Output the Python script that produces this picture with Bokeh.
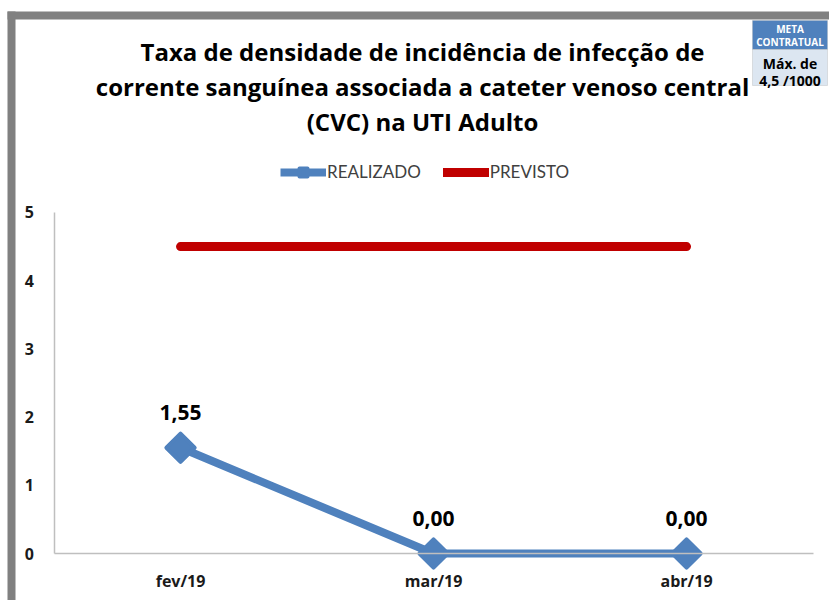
from bokeh.plotting import figure
from bokeh.models import (Range1d, FixedTicker, BoxAnnotation, LinearAxis,
                          Label, Legend, LegendItem, ColumnDataSource)
from bokeh.core.properties import value
from bokeh.embed import file_html
from bokeh.resources import INLINE

months = ["fev/19", "mar/19", "abr/19"]
realizado = [1.55, 0.0, 0.0]
previsto = [4.5, 4.5, 4.5]
realizado_labels = ["1,55", "0,00", "0,00"]
y_ticks = [0, 1, 2, 3, 4, 5]
title_lines = ["Taxa de densidade de incidência de infecção de",
               "corrente sanguínea associada a cateter venoso central",
               "(CVC) na UTI Adulto"]
meta_head = ["META", "CONTRATUAL"]
meta_body = ["Máx. de", "4,5 /1000"]

FONT = "Open Sans"
LFONT = "Lato"
BLUE = "#4F81BD"
RED = "#C00000"
GRAY = "#808080"

W, H = 829, 600
pos = list(range(len(months)))

p = figure(x_range=Range1d(-0.7115, 2.565), y_range=Range1d(-0.689, 8.108),
           width=W, height=H, output_backend="svg", toolbar_location=None,
           x_axis_type=None, y_axis_type=None,
           min_border=0, min_border_left=0, min_border_right=0,
           min_border_top=0, min_border_bottom=0)
p.background_fill_color = "white"
p.border_fill_color = "white"
p.outline_line_color = None
p.grid.visible = False

# axes drawn at fixed locations inside the frame
yax = LinearAxis(fixed_location=-0.5, bounds=(0, 5), ticker=FixedTicker(ticks=y_ticks))
yax.axis_line_color = "#BFBFBF"
yax.axis_line_width = 1.5
yax.major_tick_line_color = None
yax.minor_tick_line_color = None
yax.major_label_standoff = 14
yax.major_label_text_font = FONT
yax.major_label_text_font_style = "bold"
yax.major_label_text_font_size = "16px"
yax.major_label_text_color = "#1a1a1a"
p.add_layout(yax, "left")

xax = LinearAxis(fixed_location=0, bounds=(-0.5, len(months) - 0.5),
                 ticker=FixedTicker(ticks=pos),
                 major_label_overrides={i: m for i, m in enumerate(months)})
xax.axis_line_color = "#BFBFBF"
xax.axis_line_width = 1.5
xax.major_tick_line_color = None
xax.minor_tick_line_color = None
xax.major_label_standoff = 10
xax.major_label_text_font = FONT
xax.major_label_text_font_style = "bold"
xax.major_label_text_font_size = "16px"
xax.major_label_text_color = "#1a1a1a"
p.add_layout(xax, "below")

src = ColumnDataSource(dict(x=pos, real=realizado, prev=previsto, lab=realizado_labels))

r_prev = p.line("x", "prev", source=src, line_color=RED, line_width=9, line_cap="round")
r_real = p.line("x", "real", source=src, line_color=BLUE, line_width=8)
r_mark = p.scatter("x", "real", source=src, marker="square", angle=0.785398, size=20,
                   fill_color=BLUE, line_color=BLUE, line_width=4, line_join="round")
p.text("x", "real", text="lab", source=src, y_offset=-35, text_align="center",
       text_baseline="middle", text_font=value(FONT), text_font_style="bold",
       text_font_size="21px", text_color="black")

legend = Legend(items=[LegendItem(label="REALIZADO", renderers=[r_real, r_mark]),
                       LegendItem(label="PREVISTO", renderers=[r_prev])],
                location=(280, 418), orientation="horizontal",
                padding=0, margin=0, spacing=22, label_standoff=1,
                glyph_width=46, glyph_height=20,
                label_text_font=LFONT, label_text_font_size="17px",
                label_text_color="#404040",
                background_fill_alpha=0, border_line_color=None)
p.add_layout(legend)

def sbox(left, right, top, bottom, **kw):
    return BoxAnnotation(left=left, right=right, top=top, bottom=bottom,
                         left_units="screen", right_units="screen",
                         top_units="screen", bottom_units="screen",
                         fill_alpha=1, **kw)

# gray frame bars
p.add_layout(sbox(7, W, 589, 581, fill_color=GRAY, line_color=None))
p.add_layout(sbox(7, 15, 589, 0, fill_color=GRAY, line_color=None))

# title
for i, t in enumerate(title_lines):
    p.add_layout(Label(x=422, y=549 - 35 * i, x_units="screen", y_units="screen",
                       text=t, text_align="center", text_baseline="middle",
                       text_font=FONT, text_font_style="bold", text_font_size="24px",
                       text_color="black"))

# meta box
p.add_layout(sbox(752, 827, 580, 551, fill_color=BLUE, line_color="#A6A6A6"))
p.add_layout(sbox(752, 827, 551, 515, fill_color="#DCE6F1", line_color="#A6A6A6"))
for txt, yy in zip(meta_head, [572, 559]):
    p.add_layout(Label(x=789.5, y=yy, x_units="screen", y_units="screen", text=txt,
                       text_align="center", text_baseline="middle", text_font=FONT,
                       text_font_style="bold", text_font_size="10px", text_color="white"))
for txt, yy in zip(meta_body, [537, 520]):
    p.add_layout(Label(x=789.5, y=yy, x_units="screen", y_units="screen", text=txt,
                       text_align="center", text_baseline="middle", text_font=FONT,
                       text_font_style="bold", text_font_size="14px", text_color="black"))

open("out.html", "w").write(file_html(p, INLINE))
